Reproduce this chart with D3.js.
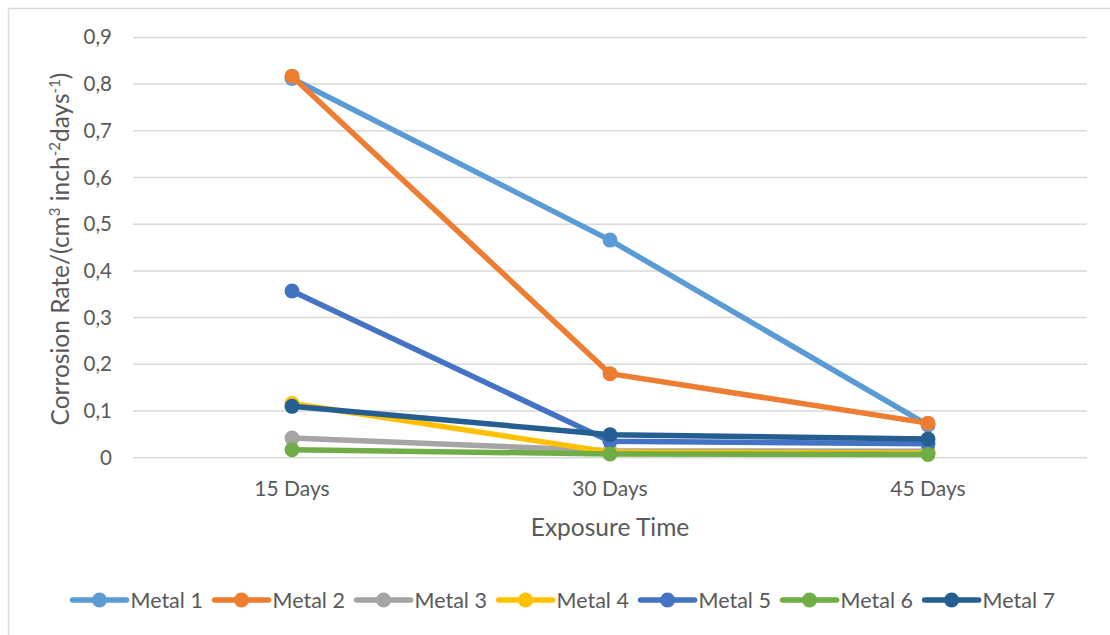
<!DOCTYPE html>
<html><head><meta charset="utf-8">
<script src="https://cdn.jsdelivr.net/npm/d3@7"></script>
<style>
html,body{margin:0;padding:0;background:#fff;}
svg{display:block;}
text{font-family:Lato, "Open Sans", sans-serif;fill:#595959;}
</style></head>
<body>
<svg id="chart" width="1110" height="635"></svg>
<script>
const categories = ["15 Days", "30 Days", "45 Days"];
const seriesNames = ["Metal 1","Metal 2","Metal 3","Metal 4","Metal 5","Metal 6","Metal 7"];
const metal1 = [0.812, 0.466, 0.070];
const metal2 = [0.817, 0.180, 0.074];
const metal3 = [0.042, 0.015, 0.014];
const metal4 = [0.116, 0.012, 0.010];
const metal5 = [0.357, 0.035, 0.030];
const metal6 = [0.017, 0.008, 0.007];
const metal7 = [0.110, 0.049, 0.040];
const colors = ["#5b9bd5","#ed7d31","#a5a5a5","#ffc000","#4472c4","#70ad47","#255e91"];
const yTicks = [0,0.1,0.2,0.3,0.4,0.5,0.6,0.7,0.8,0.9];
const yTickLabels = ["0","0,1","0,2","0,3","0,4","0,5","0,6","0,7","0,8","0,9"];

const seriesValues = [metal1,metal2,metal3,metal4,metal5,metal6,metal7];

const svg = d3.select("#chart");
// chart border
svg.append("path").attr("d","M8.5,635 L8.5,8.5 L1110,8.5").attr("fill","none").attr("stroke","#d9d9d9").attr("stroke-width",1.5);

const pLeft = 133, pRight = 1087, pTop = 37.4, pBottom = 457.7;
const x = d3.scaleBand().domain(categories).range([pLeft,pRight]);
const y = d3.scaleLinear().domain([0,0.9]).range([pBottom,pTop]);

// gridlines
svg.append("g").selectAll("line").data(yTicks).join("line")
  .attr("x1",pLeft).attr("x2",pRight)
  .attr("y1",d=>y(d)).attr("y2",d=>y(d))
  .attr("stroke","#d9d9d9").attr("stroke-width",1.5);

// y axis labels
const yAxis = d3.axisLeft(y).tickValues(yTicks).tickFormat((d,i)=>yTickLabels[i]).tickSize(0).tickPadding(21);
const gy = svg.append("g").attr("transform",`translate(${pLeft},0)`).call(yAxis);
gy.select(".domain").remove();
gy.selectAll("text").attr("font-size",20.5).attr("fill","#595959").style("font-family","Lato, sans-serif");

// x axis labels
const xAxis = d3.axisBottom(x).tickSize(0).tickPadding(23);
const gx = svg.append("g").attr("transform",`translate(0,${pBottom})`).call(xAxis);
gx.select(".domain").remove();
gx.selectAll("text").attr("font-size",21).attr("fill","#595959").style("font-family","Lato, sans-serif");

// axis titles
svg.append("text").attr("x",(pLeft+pRight)/2).attr("y",536).attr("text-anchor","middle")
  .attr("font-size",24.5).text("Exposure Time");
const yt = svg.append("text").attr("transform","translate(69,249) rotate(-90)").attr("text-anchor","middle").attr("font-size",24.5);
yt.append("tspan").text("Corrosion Rate/(cm");
yt.append("tspan").attr("font-size",15).attr("dy",-9).text("3");
yt.append("tspan").attr("dy",9).text(" inch");
yt.append("tspan").attr("font-size",15).attr("dy",-9).text("-2");
yt.append("tspan").attr("dy",9).text("days");
yt.append("tspan").attr("font-size",15).attr("dy",-9).text("-1");
yt.append("tspan").attr("dy",9).text(")");

// lines
const line = d3.line().x((d,i)=>x(categories[i])+x.bandwidth()/2).y(d=>y(d));
const g = svg.append("g");
seriesValues.forEach((vals,si)=>{
  g.append("path").attr("d",line(vals)).attr("fill","none")
    .attr("stroke",colors[si]).attr("stroke-width",5.5).attr("stroke-linejoin","round").attr("stroke-linecap","round");
  g.selectAll(null).data(vals).join("circle")
    .attr("cx",(d,i)=>x(categories[i])+x.bandwidth()/2).attr("cy",d=>y(d)).attr("r",7.5)
    .attr("fill",colors[si]);
});

// legend
const lx = d3.scalePoint().domain(seriesNames).range([99.5,951.6]);
const leg = svg.append("g");
seriesNames.forEach((n,i)=>{
  const cx = lx(n);
  leg.append("line").attr("x1",cx-27).attr("x2",cx+27).attr("y1",600).attr("y2",600)
    .attr("stroke",colors[i]).attr("stroke-width",5.5).attr("stroke-linecap","round");
  leg.append("circle").attr("cx",cx).attr("cy",600).attr("r",7.5).attr("fill",colors[i]);
  leg.append("text").attr("x",cx+31).attr("y",608).attr("font-size",21.5).text(n);
});
</script>
</body></html>
